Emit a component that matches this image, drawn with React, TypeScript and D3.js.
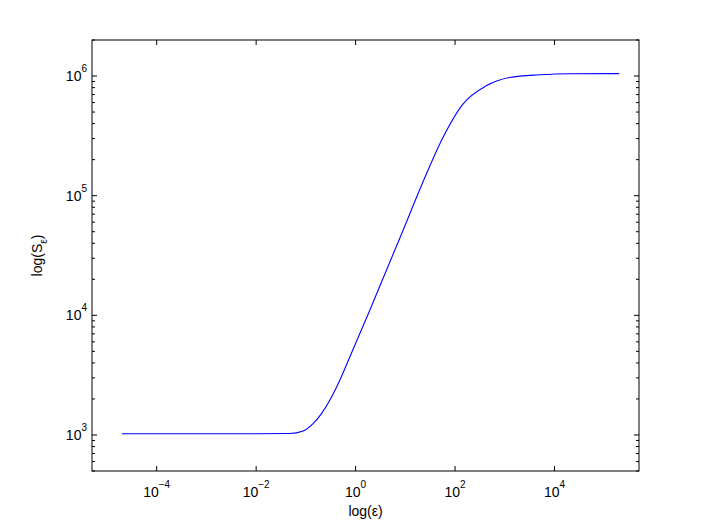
import React from "react";
import * as d3 from "d3";

// curve: epsilon vs S_epsilon
const epsValues = [
  2e-5, 1e-3, 1e-2, 0.0475, 0.0879, 0.1396, 0.206, 0.303, 0.481, 0.764, 1.21,
  1.92, 2.96, 8.97, 22.6, 53, 144, 425, 1250, 4990, 2e4, 2e5,
];
const sValues = [
  1024, 1024, 1024, 1028, 1080, 1245, 1510, 1950, 2864, 4480, 7020, 10990,
  16900, 51200, 130000, 288400, 583000, 830000, 973000, 1024000, 1046000,
  1048000,
];

const xTicks = [1e-4, 1e-2, 1, 1e2, 1e4];
const xTickExp = ["\u22124", "\u22122", "0", "2", "4"];
const yTicks = [1e3, 1e4, 1e5, 1e6];
const yTickExp = ["3", "4", "5", "6"];
const xDomain = [5e-6, 5e5];
const yDomain = [500, 2e6];

const W = 706;
const H = 531;
const margin = { top: 40, right: 67, bottom: 60, left: 92 };

const App = () => {
  const innerW = W - margin.left - margin.right;
  const innerH = H - margin.top - margin.bottom;

  const x = d3.scaleLog().domain(xDomain).range([margin.left, margin.left + innerW]);
  const y = d3.scaleLog().domain(yDomain).range([margin.top + innerH, margin.top]);

  const data = epsValues.map((e, i) => ({ e, s: sValues[i] }));
  const line = d3
    .line<{ e: number; s: number }>()
    .x((d) => x(d.e))
    .y((d) => y(d.s))
    .curve(d3.curveMonotoneX);

  // minor ticks for the y axis (2..9 in each decade)
  const yMinor: number[] = [];
  for (let p = 2; p <= 6; p++) {
    for (let k = 2; k <= 9; k++) {
      const v = k * Math.pow(10, p);
      if (v >= yDomain[0] && v <= yDomain[1]) yMinor.push(v);
    }
  }

  const x0 = margin.left;
  const x1 = margin.left + innerW;
  const y0 = margin.top;
  const y1 = margin.top + innerH;
  const font = "'Liberation Sans', Arial, Helvetica, sans-serif";

  return (
    <svg
      width={W}
      height={H}
      style={{ position: "absolute", left: 0, top: 0, background: "#fff" }}
    >
      <rect x={0} y={0} width={W} height={H} fill="#fff" />

      {/* data line */}
      <path d={line(data) || ""} fill="none" stroke="#0000ff" strokeWidth={1.1} />

      {/* axes box */}
      <rect x={x0} y={y0} width={innerW} height={innerH} fill="none" stroke="#000" strokeWidth={1} />

      {/* x ticks, bottom and top */}
      {xTicks.map((t, i) => (
        <g key={"xt" + i}>
          <line x1={x(t)} x2={x(t)} y1={y1} y2={y1 - 5} stroke="#000" />
          <line x1={x(t)} x2={x(t)} y1={y0} y2={y0 + 5} stroke="#000" />
          <text x={x(t)} y={496.5} fontFamily={font} fontSize={14} textAnchor="middle">
            <tspan>10</tspan>
            <tspan fontSize={10} dy={-9}>{xTickExp[i]}</tspan>
          </text>
        </g>
      ))}

      {/* y major ticks, left and right */}
      {yTicks.map((t, i) => (
        <g key={"yt" + i}>
          <line x1={x0} x2={x0 + 5} y1={y(t)} y2={y(t)} stroke="#000" />
          <line x1={x1} x2={x1 - 5} y1={y(t)} y2={y(t)} stroke="#000" />
          <text x={87} y={y(t) + 5} fontFamily={font} fontSize={14} textAnchor="end">
            <tspan>10</tspan>
            <tspan fontSize={10} dy={-9}>{yTickExp[i]}</tspan>
          </text>
        </g>
      ))}

      {/* y minor ticks */}
      {yMinor.map((t, i) => (
        <g key={"ym" + i}>
          <line x1={x0} x2={x0 + 3} y1={y(t)} y2={y(t)} stroke="#000" />
          <line x1={x1} x2={x1 - 3} y1={y(t)} y2={y(t)} stroke="#000" />
        </g>
      ))}

      {/* axis labels */}
      <text x={(x0 + x1) / 2} y={516} fontFamily={font} fontSize={14} textAnchor="middle">
        {"log(\u03b5)"}
      </text>
      <text
        transform={`translate(42, ${(y0 + y1) / 2}) rotate(-90)`}
        fontFamily={font}
        fontSize={14}
        textAnchor="middle"
      >
        <tspan>log(S</tspan>
        <tspan fontSize={10} dy={5}>{"\u03b5"}</tspan>
        <tspan dy={-5}>)</tspan>
      </text>
    </svg>
  );
};

export default App;
